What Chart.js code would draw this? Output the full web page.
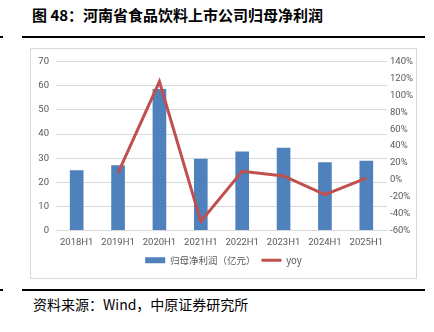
<!DOCTYPE html>
<html>
<head>
<meta charset="utf-8">
<script src="https://cdn.jsdelivr.net/npm/chart.js@4.4.0/dist/chart.umd.min.js"></script>
<style>
    html, body { margin: 0; padding: 0; background: #fff; }
    body { width: 434px; height: 332px; position: relative; overflow: hidden; font-family: "Noto Sans CJK SC", sans-serif; }
    .titulo { position: absolute; left: 32px; top: 4px; font-size: 15px; font-weight: bold; color: #000; white-space: nowrap; line-height: 22px; }
    .regla { position: absolute; left: 22px; width: 403px; height: 2px; background: #000; }
    .punto { position: absolute; left: 0; width: 3px; height: 2px; background: #000; }
    .marco { position: absolute; left: 30px; top: 48px; width: 385px; height: 229px; border: 1px solid #d9d9d9; }
    .marco canvas { position: absolute; left: 0; top: 0; }
    .fuente { position: absolute; left: 33px; top: 295px; font-size: 14px; color: #000; white-space: nowrap; line-height: 18px; }
</style>
</head>
<body>
<div class="titulo">图 48：河南省食品饮料上市公司归母净利润</div>
<div class="punto" style="top:36px"></div>
<div class="regla" style="top:36px"></div>
<div class="marco"><canvas id="grafico" width="385" height="229"></canvas></div>
<div class="punto" style="top:289px"></div>
<div class="regla" style="top:289px"></div>
<div class="fuente">资料来源：Wind，中原证券研究所</div>

<script>
// Datos
const periodos = ['2018H1', '2019H1', '2020H1', '2021H1', '2022H1', '2023H1', '2024H1', '2025H1'];
const beneficio = [25.0, 27.1, 58.7, 29.8, 32.8, 34.3, 28.3, 28.9];   // 亿元
const yoy = [null, 8.4, 116.5, -49.2, 10.1, 4.6, -17.5, 2.1];       // %
const ticksIzq = { min: 0, max: 70, paso: 10 };
const ticksDer = { min: -60, max: 140, paso: 20 };

const GRIS = '#595959';
const fuenteEje = { family: 'Roboto, sans-serif', size: 9.5 };

new Chart(document.getElementById('grafico'), {
    data: {
        labels: periodos,
        datasets: [{
            type: 'bar',
            label: '归母净利润（亿元）',
            data: beneficio,
            backgroundColor: '#4f81bd',
            borderWidth: 0,
            barPercentage: 0.33,
            categoryPercentage: 1,
            yAxisID: 'y',
            order: 1
        }, {
            type: 'line',
            label: 'yoy',
            data: yoy,
            borderColor: '#c0504d',
            backgroundColor: '#c0504d',
            borderWidth: 3,
            pointRadius: 0,
            tension: 0,
            spanGaps: false,
            yAxisID: 'y1',
            order: 0
        }]
    },
    options: {
        responsive: false,
        animation: false,
        maintainAspectRatio: false,
        layout: { padding: { top: 8, left: 0, right: 0, bottom: 3 } },
        plugins: {
            tooltip: { enabled: false },
            legend: {
                position: 'bottom',
                labels: {
                    usePointStyle: true,
                    pointStyleWidth: 20,
                    boxHeight: 6,
                    padding: 6,
                    color: GRIS,
                    font: { family: '"Noto Sans CJK SC", sans-serif', size: 9.5 },
                    generateLabels: function(chart) {
                        const items = Chart.defaults.plugins.legend.labels.generateLabels(chart);
                        items.sort((a, b) => a.datasetIndex - b.datasetIndex);
                        items.forEach(item => {
                            if (item.datasetIndex === 0) {
                                item.pointStyle = 'rect';
                                item.lineWidth = 0;
                            } else {
                                item.pointStyle = 'line';
                                item.lineWidth = 3;
                                item.strokeStyle = '#c0504d';
                            }
                        });
                        return items;
                    }
                }
            }
        },
        scales: {
            x: {
                grid: { display: false, drawTicks: false },
                border: { display: true, color: '#d9d9d9' },
                ticks: { color: GRIS, font: fuenteEje, padding: 6, maxRotation: 0 },
                afterFit: function(scale) { scale.height = 19; }
            },
            y: {
                position: 'left',
                min: ticksIzq.min,
                max: ticksIzq.max,
                grid: { color: '#d9d9d9', drawTicks: false },
                border: { display: false },
                ticks: { stepSize: ticksIzq.paso, color: GRIS, font: fuenteEje, padding: 7 },
                afterFit: function(scale) { scale.width = 25; }
            },
            y1: {
                position: 'right',
                min: ticksDer.min,
                max: ticksDer.max,
                grid: { display: false, drawTicks: false },
                border: { display: false },
                ticks: {
                    stepSize: ticksDer.paso,
                    color: GRIS,
                    font: fuenteEje,
                    padding: 3,
                    callback: v => v + '%'
                },
                afterFit: function(scale) { scale.width = 29; }
            }
        }
    }
});
</script>
</body>
</html>
